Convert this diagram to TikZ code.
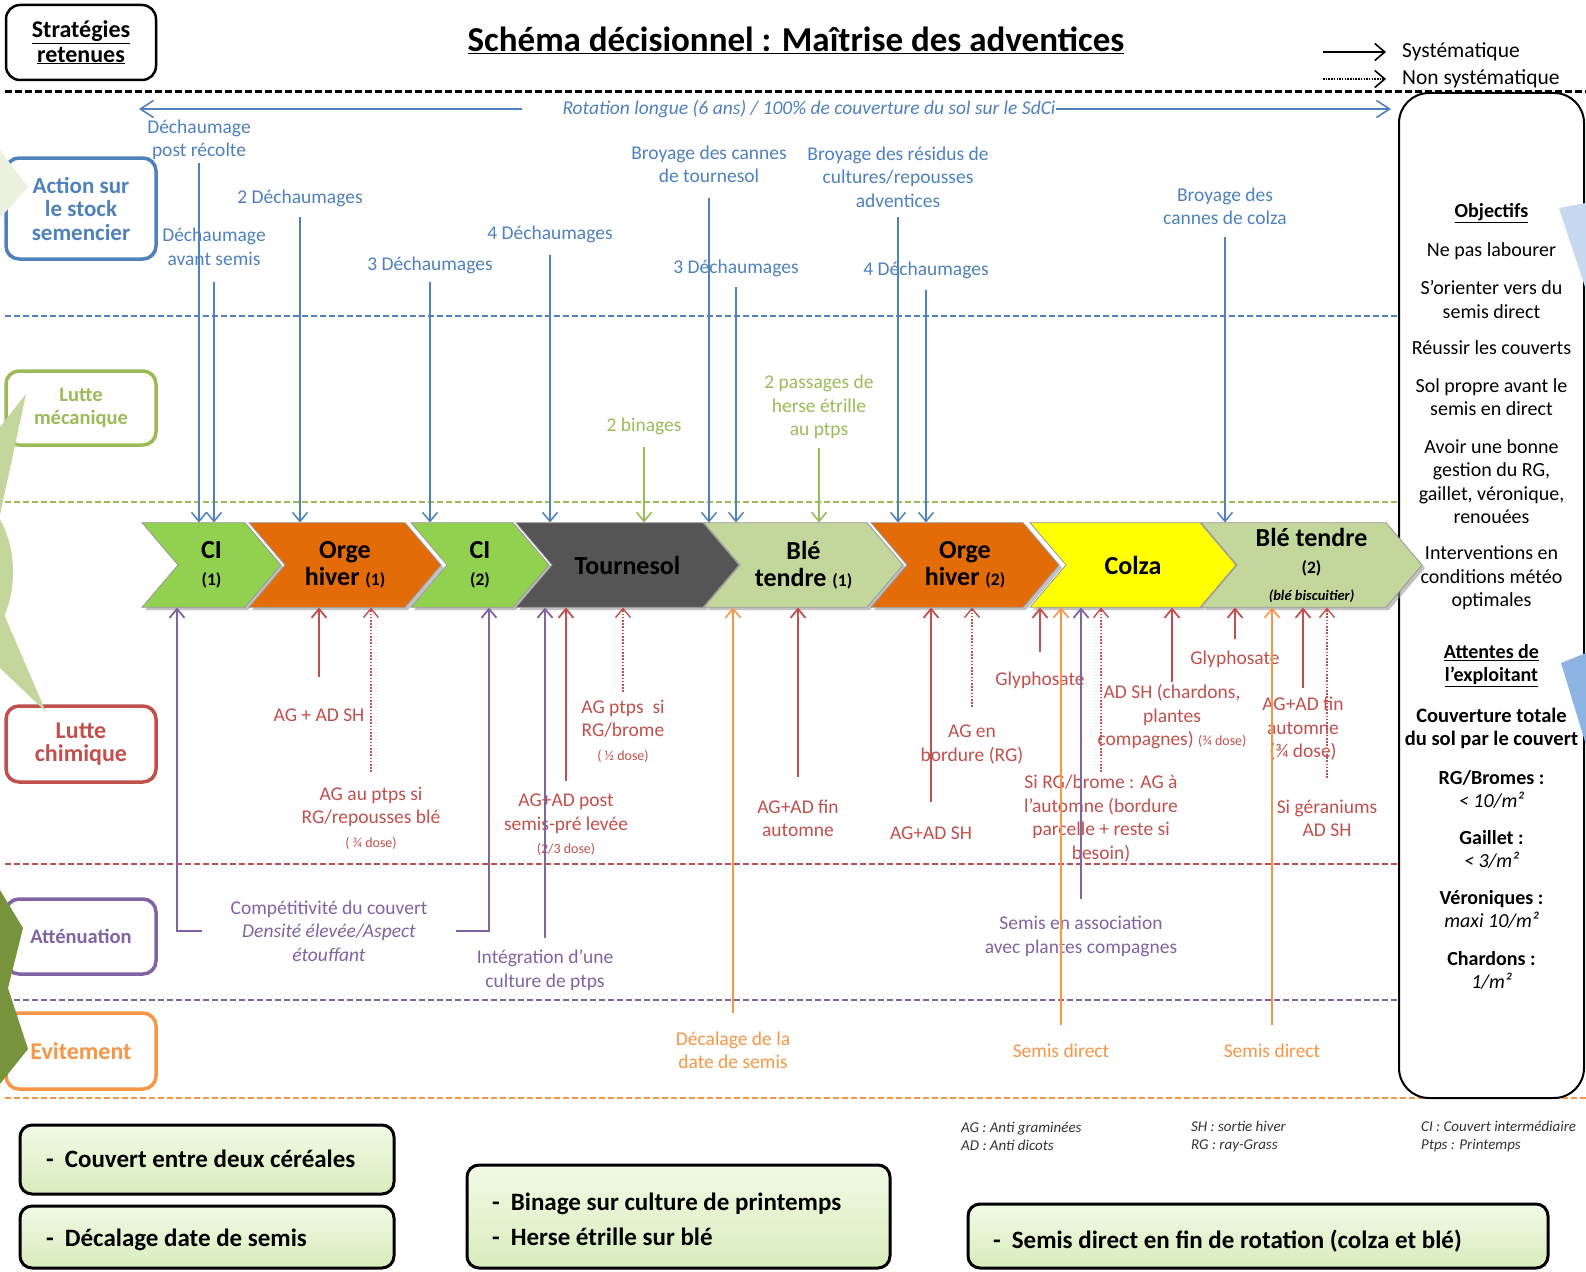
\documentclass[tikz,border=0pt]{standalone}
\usepackage{fontspec}
\setmainfont{Carlito}
\usetikzlibrary{arrows.meta}

\definecolor{cBlue}{HTML}{4F81BD}
\definecolor{cGreen}{HTML}{9BBB59}
\definecolor{cRed}{HTML}{C0504D}
\definecolor{cPurple}{HTML}{8064A2}
\definecolor{cOrange}{HTML}{F79646}
\definecolor{ciGreen}{HTML}{92D050}
\definecolor{orgeOr}{HTML}{E36C09}
\definecolor{tourGray}{HTML}{555555}
\definecolor{bleGreen}{HTML}{C3D69B}
\definecolor{colzaYel}{HTML}{FFFF00}
\definecolor{decoPale}{HTML}{EBF1DE}
\definecolor{decoLight}{HTML}{C3D69B}
\definecolor{decoDark}{HTML}{77933C}
\definecolor{decoBlueA}{HTML}{C6D9F1}
\definecolor{decoBlueB}{HTML}{8DB4E2}
\definecolor{boxTop}{HTML}{F2FAE6}
\definecolor{boxBot}{HTML}{D8ECBC}

\newcommand\fsLab{\fontsize{19.5}{23.5}\selectfont}
\newcommand\fsSmall{\fontsize{14}{17}\selectfont}
\newcommand\fsCrop{\fontsize{26}{27}\selectfont\bfseries}
\newcommand\fsCropSub{\fontsize{17.5}{20}\selectfont}
\newcommand\fsPanel{\fontsize{20}{23.5}\selectfont}

% one crop of the rotation: name, back x, tip x, fill colour, label
\newcommand\cropchev[5]{%
  \fill[black!40, opacity=0.6] ({#2+3},526) -- ({#3-33},526) -- ({#3+3},568)
        -- ({#3-33},610) -- ({#2+3},610) -- ({#2+39},568) -- cycle;
  \filldraw[fill=#4, draw=black!40, line width=0.8pt] (#2,522.7) -- ({#3-36},522.7)
        -- (#3,565) -- ({#3-36},607.3) -- (#2,607.3) -- ({#2+36},565) -- cycle;
  \node[crop, minimum width={#3-#2}] (#1) at ({(#2+#3)/2},565) {#5};
}

\tikzset{
  lab/.style={font=\fsLab, align=center, inner sep=0pt},
  blab/.style={lab, text=cBlue},
  glab/.style={lab, text=cGreen},
  rlab/.style={lab, text=cRed},
  plab/.style={lab, text=cPurple},
  olab/.style={lab, text=cOrange},
  pnl/.style={font=\fsPanel, align=center, inner sep=0pt, text=black},
  sep/.style={dash pattern=on 6pt off 3pt, line width=1.6pt},
  lane/.style={draw=#1, text=#1, line width=3.5pt, rounded corners=13pt, fill=white,
               minimum width=150pt, align=center, inner sep=0pt},
  crop/.style={inner sep=0pt, minimum height=84.6pt, align=center, font=\fsCrop, text=black},
  conn/.style={line width=1.6pt, -{Straight Barb[length=9pt,width=15pt]}},
  bconn/.style={conn, cBlue, line width=1.5pt},
  gconn/.style={conn, cGreen},
  rconn/.style={conn, cRed, line width=1.8pt},
  rdconn/.style={conn, cRed, line width=1.4pt, dash pattern=on 1.6pt off 1.6pt},
  pconn/.style={conn, cPurple, line width=1.8pt},
  oconn/.style={conn, cOrange, line width=1.6pt},
  rotconn/.style={cBlue, line width=1.6pt, -{Straight Barb[length=13pt,width=17pt]}},
  abbr/.style={anchor=west, align=left, inner sep=0pt, text=black!80,
               font=\fontsize{15}{18}\selectfont\itshape},
  bbox/.style={draw=black, line width=3pt, rounded corners=12pt, inner sep=0pt,
               top color=boxTop, bottom color=boxBot},
  btxt/.style={anchor=west, align=left, inner sep=0pt, text=black,
               font=\fontsize{25}{35}\selectfont\bfseries},
}

\begin{document}
\begin{tikzpicture}[x=1pt,y=-1pt]
\useasboundingbox (0,0) rectangle (1586,1271);
\fill[white] (0,0) rectangle (1586,1271);
\clip (0,0) rectangle (1586,1271);

% ---------- header ----------
\node[draw, line width=2.5pt, rounded corners=14pt, fill=white, minimum width=150pt,
      minimum height=75pt, align=center, inner sep=0pt,
      font=\fontsize{24}{24.5}\selectfont\bfseries] (strat) at (81,42.5)
      {\underline{Stratégies}\\\underline{retenues}};
\node[inner sep=0pt, font=\fontsize{35}{40}\selectfont\bfseries] (title) at (796,40)
      {\underline{Schéma décisionnel : Maîtrise des adventices}};

\node[anchor=west, inner sep=0pt, font=\fontsize{21.5}{24}\selectfont] (sys) at (1402,52) {Systématique};
\node[anchor=west, inner sep=0pt, font=\fontsize{21.5}{24}\selectfont] (nsys) at (1402,79) {Non systématique};
\coordinate (legA) at (1323,52);
\coordinate (legB) at (1323,79);
\draw[line width=1.6pt, -{Straight Barb[length=10pt,width=17pt]}] (legA) -- ([xshift=-16pt]sys.west);
\draw[line width=1.6pt, dash pattern=on 1.5pt off 1.2pt, -{Straight Barb[length=10pt,width=17pt]}]
      (legB) -- ([xshift=-16pt]nsys.west);

% ---------- lane separators ----------
\draw[sep, black, line width=2.2pt, dash pattern=on 7pt off 3pt] (5,91.5) -- (1586,91.5);
\draw[sep, cBlue]   (5,316)  -- (1399,316);
\draw[sep, cGreen]  (5,502)  -- (1399,502);
\draw[sep, cRed]    (5,864)  -- (1399,864);
\draw[sep, cPurple] (5,1000) -- (1399,1000);
\draw[sep, cOrange] (5,1098) -- (1586,1098);

% ---------- right panel ----------
\node[draw, line width=2pt, rounded corners=30pt, minimum width=185pt, minimum height=1005pt,
      inner sep=0pt] (panel) at (1491.5,595.5) {};
\node[pnl, font=\fsPanel\bfseries] (objH) at (1491.5,213) {\underline{Objectifs}};
\node[pnl] (obj1) at (1491.5,251) {Ne pas labourer};
\node[pnl] (obj2) at (1491.5,299.5) {S’orienter vers du\\semis direct};
\node[pnl] (obj3) at (1491.5,348) {Réussir les couverts};
\node[pnl] (obj4) at (1491.5,397) {Sol propre avant le\\semis en direct};
\node[pnl] (obj5) at (1491.5,481.5) {Avoir une bonne\\gestion du RG,\\gaillet, véronique,\\renouées};
\node[pnl] (obj6) at (1491.5,578) {Interventions en\\conditions météo\\optimales};
\node[pnl, font=\fsPanel\bfseries] (attH) at (1491.5,665.5) {\underline{Attentes de}\\\underline{l’exploitant}};
\node[pnl, font=\fontsize{20.5}{23.5}\selectfont\bfseries] (att1) at (1491.5,728.5) {Couverture totale\\du sol par le couvert};
\node[pnl] (att2) at (1491.5,789.5) {\textbf{RG/Bromes :}\\\textit{< 10/m²}};
\node[pnl] (att3) at (1491.5,849.5) {\textbf{Gaillet :}\\\textit{< 3/m²}};
\node[pnl] (att4) at (1491.5,909.5) {\textbf{Véroniques :}\\\textit{maxi 10/m²}};
\node[pnl] (att5) at (1491.5,970.5) {\textbf{Chardons :}\\\textit{1/m²}};

% ---------- lane titles ----------
\node[lane=cBlue, minimum height=101pt, font=\fontsize{23}{23.5}\selectfont\bfseries] (lStock) at (81,208.5) {Action sur\\le stock\\semencier};
\node[lane=cGreen, minimum height=74pt, font=\fontsize{20.5}{22.5}\selectfont\bfseries] (lMeca) at (81,408) {Lutte\\mécanique};
\node[lane=cRed, minimum height=76pt, font=\fontsize{24}{23.5}\selectfont\bfseries] (lChim) at (81,744) {Lutte\\chimique};
\node[lane=cPurple, minimum height=75pt, font=\fontsize{20.5}{23}\selectfont\bfseries] (lAtt) at (81,936.5) {Atténuation};
\node[lane=cOrange, minimum height=76pt, font=\fontsize{24}{25}\selectfont\bfseries] (lEvit) at (81,1051) {Evitement};

% ---------- crop sequence (chevrons) ----------
\cropchev{ci1}{142}{281}{ciGreen}{CI\\{\fsCropSub(1)}}
\cropchev{oh1}{249}{441}{orgeOr}{Orge\\hiver {\fsCropSub(1)}}
\cropchev{ci2}{411}{549}{ciGreen}{CI\\{\fsCropSub(2)}}
\cropchev{tou}{516}{739}{tourGray}{Tournesol}
\cropchev{bt1}{704}{903}{bleGreen}{Blé\\tendre {\fsCropSub(1)}}
\cropchev{oh2}{871}{1059}{orgeOr}{Orge\\hiver {\fsCropSub(2)}}
\cropchev{col}{1030}{1236}{colzaYel}{Colza}
\cropchev{bt2}{1201}{1422}{bleGreen}{Blé tendre\\{\fsCropSub(2)}\\{\fontsize{14.5}{16}\selectfont\itshape(blé biscuitier)}}

% ---------- rotation ----------
\node[blab, font=\fsLab\itshape] (rot) at (809,109) {Rotation longue (6 ans) / 100\% de couverture du sol sur le SdCi};
\coordinate (rotL) at (139,109);
\coordinate (rotR) at (1391,109);
\draw[rotconn] (rot.west) ++(-40,0) -- (rotL);
\draw[rotconn] (rot.east) -- (rotR);

% ---------- action on the seed bank ----------
\node[blab] (b1) at (199,140) {Déchaumage\\post récolte};
\node[blab] (b2) at (214,247) {Déchaumage\\avant semis};
\node[blab] (b3) at (300,198) {2 Déchaumages};
\node[blab] (b4) at (430,265) {3 Déchaumages};
\node[blab] (b5) at (550,234) {4 Déchaumages};
\node[blab] (b6) at (709,164.5) {Broyage des cannes\\de tournesol};
\node[blab] (b7) at (736,268) {3 Déchaumages};
\node[blab] (b8) at (898,177) {Broyage des résidus de\\cultures/repousses\\adventices};
\node[blab] (b9) at (926,270) {4 Déchaumages};
\node[blab] (b10) at (1225,206.5) {Broyage des\\cannes de colza};

% ---------- mechanical control ----------
\node[glab] (g1) at (644,426) {2 binages};
\node[glab] (g2) at (819,407) {2 passages de\\herse étrille\\au ptps};

% ---------- chemical control ----------
\node[rlab] (r1) at (319,715) {AG + AD SH};
\node[rlab] (r2) at (371,818) {AG au ptps si\\RG/repousses blé\\{\fsSmall( ¾ dose)}};
\node[rlab] (r3) at (623,731) {AG ptps~~si\\RG/brome\\{\fsSmall( ½ dose)}};
\node[rlab] (r4) at (566,825) {AG+AD post\\semis-pré levée\\{\fsSmall(2/3 dose)}};
\node[rlab] (r5) at (798,818.5) {AG+AD fin\\automne};
\node[rlab] (r6) at (972,744.5) {AG en\\bordure (RG)};
\node[rlab] (r7) at (931,833) {AG+AD SH};
\node[rlab] (r8) at (1040,680) {Glyphosate};
\node[rlab] (r9) at (1172,717) {AD SH (chardons,\\plantes\\compagnes) {\fsSmall(¾ dose)}};
\node[rlab] (r10) at (1101,818.5) {Si RG/brome : AG à\\l’automne (bordure\\parcelle + reste si\\besoin)};
\node[rlab] (r11) at (1235,659) {Glyphosate};
\node[rlab] (r12) at (1303,729) {AG+AD fin\\automne\\(¾ dose)};
\node[rlab] (r13) at (1327,818.5) {Si géraniums\\AD SH};

% ---------- mitigation ----------
\node[plab] (p1) at (329,931) {Compétitivité du couvert\\\textit{Densité élevée/Aspect}\\\textit{étouffant}};
\node[plab] (p2) at (545,970) {Intégration d’une\\culture de ptps};
\node[plab] (p3) at (1081,936.5) {Semis en association\\avec plantes compagnes};

% ---------- avoidance ----------
\node[olab] (o1) at (733,1050.5) {Décalage de la\\date de semis};
\node[olab] (o2) at (1061,1051) {Semis direct};
\node[olab] (o3) at (1272,1051) {Semis direct};

% ---------- connectors from above ----------
\draw[bconn] (b1.south |- 0,163) -- (b1.south |- ci1.north);
\draw[bconn] (b2.south |- 0,282) -- (b2.south |- ci1.north);
\draw[bconn] (b3.south |- 0,217) -- (b3.south |- oh1.north);
\draw[bconn] (b4.south |- 0,282) -- (b4.south |- ci2.north);
\draw[bconn] (b5.south |- 0,255) -- (b5.south |- tou.north);
\draw[bconn] (b6.south |- 0,198) -- (b6.south |- bt1.north);
\draw[bconn] (b7.south |- 0,287) -- (b7.south |- bt1.north);
\draw[bconn] (b8.south |- 0,217) -- (b8.south |- oh2.north);
\draw[bconn] (b9.south |- 0,290) -- (b9.south |- oh2.north);
\draw[bconn] (b10.south |- 0,237) -- (b10.south |- bt2.north);
\draw[gconn] (g1.south |- 0,447) -- (g1.south |- tou.north);
\draw[gconn] (g2.south |- 0,448) -- (g2.south |- bt1.north);

% ---------- connectors from below ----------
\draw[pconn] (p1.west) ++(-28,0) -| ([xshift=-34.5pt]ci1.south);
\draw[pconn] (p1.east) ++(28,0) -| ([xshift=9pt]ci2.south);
\draw[rconn]  (r1.north |- 0,677) -- (r1.north |- oh1.south);
\draw[rdconn] (r2.north |- 0,772) -- (r2.north |- oh1.south);
\draw[pconn]  (p2.north |- 0,938) -- (p2.north |- tou.south);
\draw[rconn]  (r4.north |- 0,781) -- (r4.north |- tou.south);
\draw[rdconn] (r3.north |- 0,692) -- (r3.north |- tou.south);
\draw[oconn]  (o1.north |- 0,1013) -- (o1.north |- bt1.south);
\draw[rconn]  (r5.north |- 0,777) -- (r5.north |- bt1.south);
\draw[rconn]  (r7.north |- 0,802) -- (r7.north |- oh2.south);
\draw[rdconn] (r6.north |- 0,707) -- (r6.north |- oh2.south);
\draw[rconn]  (r8.north |- 0,652) -- (r8.north |- col.south);
\draw[oconn]  (o2.north |- 0,1025) -- (o2.north |- col.south);
\draw[pconn]  (p3.north |- 0,899) -- (p3.north |- col.south);
\draw[rdconn] (r10.north |- 0,772) -- (r10.north |- col.south);
\draw[rconn]  (r9.north |- 0,682) -- (r9.north |- col.south);
\draw[rconn]  (r11.north |- 0,639) -- (r11.north |- bt2.south);
\draw[oconn]  (o3.north |- 0,1025) -- (o3.north |- bt2.south);
\draw[rconn]  (r12.north |- 0,688) -- (r12.north |- bt2.south);
\draw[rdconn] (r13.north |- 0,778) -- (r13.north |- bt2.south);

% ---------- abbreviations ----------
\node[abbr] (ab1) at (961,1136) {AG : Anti graminées\\AD : Anti dicots};
\node[abbr] (ab2) at (1191,1136) {SH : sortie hiver\\RG : ray-Grass};
\node[abbr] (ab3) at (1421,1136) {CI : Couvert intermédiaire\\Ptps : Printemps};

% ---------- retained strategies ----------
\node[bbox, minimum width=374pt, minimum height=69pt] (bx1) at (207,1159.5) {};
\node[bbox, minimum width=374pt, minimum height=62pt] (bx2) at (207,1237) {};
\node[bbox, minimum width=423pt, minimum height=103pt] (bx3) at (678.5,1216.5) {};
\node[bbox, minimum width=580pt, minimum height=64pt] (bx4) at (1258,1236) {};
\node[btxt] (tx1) at (46,1159) {-\hspace{11pt}Couvert entre deux céréales};
\node[btxt] (tx2) at (46,1240) {-\hspace{11pt}Décalage date de semis};
\node[btxt] (tx3) at (492,1219.5) {-\hspace{11pt}Binage sur culture de printemps\\-\hspace{11pt}Herse étrille sur blé};
\node[btxt] (tx4) at (993,1241) {-\hspace{11pt}Semis direct en fin de rotation (colza et blé)};

% ---------- edge ornaments ----------
\fill[decoPale] (0,150) -- (28,187) -- (0,218) -- cycle;
\fill[decoLight] (0,427) -- (26,394) -- (0,515) -- cycle;
\fill[decoLight] (-40,572) ellipse [x radius=53, y radius=80];
\fill[decoLight] (0,605) -- (46,712) -- (0,668) -- cycle;
\fill[decoDark] (0,890) -- (23,928) -- (8,988) -- (28,1049) -- (0,1084) -- cycle;
\fill[decoBlueA] (1559,208) -- (1586,203) -- (1586,290) -- cycle;
\fill[decoBlueB] (1561,663) -- (1586,653) -- (1586,745) -- cycle;
\end{tikzpicture}
\end{document}
